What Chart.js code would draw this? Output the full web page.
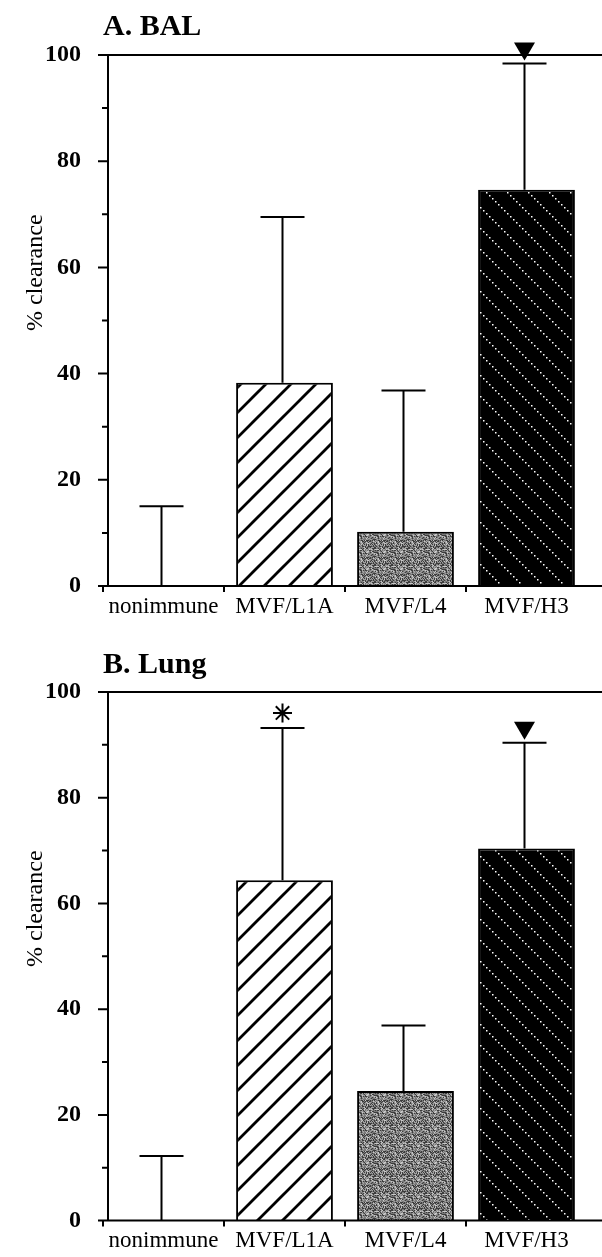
<!DOCTYPE html>
<html><head><meta charset="utf-8">
<script src="https://cdn.jsdelivr.net/npm/chart.js@4.4.0/dist/chart.umd.min.js"></script>
<style>
html,body{margin:0;padding:0;background:#fff;}
#wrap{width:602px;height:1257px;position:relative;overflow:hidden;}
canvas{position:absolute;left:0;display:block;}
</style></head><body>
<div id="wrap">
<canvas id="cA" width="602" height="628" style="top:0"></canvas>
<canvas id="cB" width="602" height="629" style="top:628px"></canvas>
</div>
<script>
// ---- data ----
const categories = ['nonimmune', 'MVF/L1A', 'MVF/L4', 'MVF/H3'];
const balMean = [0, 38.3, 10.2, 74.6];
const balSD   = [15.0, 31.2, 26.6, 23.8];
const lungMean = [0, 64.4, 24.5, 70.4];
const lungSD   = [12.2, 28.8, 12.4, 20.0];
const balMarks  = ['', '', '', 'triangle'];
const lungMarks = ['', 'asterisk', '', 'triangle'];
const panelTitles = ['A. BAL', 'B. Lung'];
const yAxisTitle = '% clearance';
const yMin = 0, yMax = 100, yStep = 20, yMinorStep = 10;

const SERIF = '"Liberation Serif", "Times New Roman", serif';

// ---- fill patterns ----
function hatchPattern(size, lw) {
  const c = document.createElement('canvas'); c.width = c.height = size;
  const g = c.getContext('2d');
  g.fillStyle = '#fff'; g.fillRect(0, 0, size, size);
  g.strokeStyle = '#000'; g.lineWidth = lw;
  g.beginPath();
  g.moveTo(-size, size * 2); g.lineTo(size * 2, -size);
  g.moveTo(-size, size); g.lineTo(size, -size);
  g.moveTo(0, size * 2); g.lineTo(size * 2, 0);
  g.stroke();
  return g.createPattern(c, 'repeat');
}
function dottedBlackPattern(size) {
  const c = document.createElement('canvas'); c.width = c.height = size;
  const g = c.getContext('2d');
  g.fillStyle = '#000'; g.fillRect(0, 0, size, size);
  g.fillStyle = '#fff';
  for (let i = 0; i < size; i += 3) g.fillRect(i, i, 1.5, 1.5);
  return g.createPattern(c, 'repeat');
}
function stipplePattern(size) {
  const c = document.createElement('canvas'); c.width = c.height = size;
  const g = c.getContext('2d');
  const img = g.createImageData(size, size);
  for (let y = 0; y < size; y++) for (let x = 0; x < size; x++) {
    const h = ((x * 374761393 + y * 668265263) ^ ((x * y) * 2246822519)) >>> 0;
    const v = (h >>> 13) % 100;
    const shade = v < 35 ? 60 : (v < 65 ? 120 : (v < 88 ? 160 : 200));
    const k = (y * size + x) * 4;
    img.data[k] = img.data[k + 1] = img.data[k + 2] = shade; img.data[k + 3] = 255;
  }
  g.putImageData(img, 0, 0);
  return g.createPattern(c, 'repeat');
}
const fills = ['#ffffff', hatchPattern(25, 2.8), stipplePattern(17), dottedBlackPattern(21)];

// ---- plugins ----
const frame = {
  id: 'frame',
  afterDatasetsDraw(chart) {
    const { ctx, chartArea: a } = chart;
    const ys = chart.scales.y, xs = chart.scales.x;
    const ax = a.left + 5;
    ctx.save();
    ctx.strokeStyle = '#000'; ctx.lineWidth = 2; ctx.lineCap = 'butt';
    ctx.beginPath();
    ctx.moveTo(ax, a.top); ctx.lineTo(ax, a.bottom);
    ctx.moveTo(ax - 10, a.top); ctx.lineTo(chart.width, a.top);
    ctx.moveTo(a.left - 1, a.bottom); ctx.lineTo(chart.width, a.bottom);
    for (let v = yMin; v <= yMax; v += yStep) {
      const p = ys.getPixelForValue(v); ctx.moveTo(ax - 10, p); ctx.lineTo(ax, p);
    }
    for (let v = yMinorStep; v < yMax; v += yStep) {
      const p = ys.getPixelForValue(v); ctx.moveTo(ax - 6, p); ctx.lineTo(ax, p);
    }
    const half = (xs.getPixelForValue(1) - xs.getPixelForValue(0)) / 2;
    for (let i = 0; i < categories.length; i++) {
      const p = xs.getPixelForValue(i) - half;
      ctx.moveTo(p, a.bottom); ctx.lineTo(p, a.bottom + 6);
    }
    ctx.stroke();
    ctx.restore();
  }
};
const errorBars = {
  id: 'errorBars',
  afterDatasetsDraw(chart) {
    const { ctx } = chart; const ds = chart.data.datasets[0];
    const meta = chart.getDatasetMeta(0); const ys = chart.scales.y;
    ctx.save(); ctx.strokeStyle = '#000'; ctx.lineWidth = 2;
    meta.data.forEach((bar, i) => {
      const base = ys.getPixelForValue(ds.data[i]);
      const top = ys.getPixelForValue(ds.data[i] + ds.sd[i]);
      const x = bar.x - 2;
      ctx.beginPath();
      ctx.moveTo(x, base); ctx.lineTo(x, top);
      ctx.moveTo(x - 22, top); ctx.lineTo(x + 22, top);
      ctx.stroke();
      const m = ds.marks[i];
      if (m === 'triangle') {
        ctx.fillStyle = '#000';
        ctx.beginPath();
        ctx.moveTo(x - 10.5, top - 21); ctx.lineTo(x + 10.5, top - 21); ctx.lineTo(x, top - 3);
        ctx.closePath(); ctx.fill();
      } else if (m === 'asterisk') {
        const cy = top - 15, r = 9.5;
        ctx.beginPath();
        for (let k = 0; k < 4; k++) {
          const ang = k * Math.PI / 4;
          ctx.moveTo(x - r * Math.cos(ang), cy - r * Math.sin(ang));
          ctx.lineTo(x + r * Math.cos(ang), cy + r * Math.sin(ang));
        }
        ctx.stroke();
      }
    });
    ctx.restore();
  }
};
const texts = {
  id: 'texts',
  afterDraw(chart, args, opts) {
    const { ctx, chartArea: a } = chart; const ys = chart.scales.y;
    ctx.save(); ctx.fillStyle = '#000';
    ctx.font = 'bold 30px ' + SERIF; ctx.textAlign = 'left'; ctx.textBaseline = 'alphabetic';
    ctx.fillText(opts.title, a.left, opts.titleBaseline);
    ctx.translate(36, ys.getPixelForValue(59));
    ctx.rotate(-Math.PI / 2);
    ctx.font = '24px ' + SERIF; ctx.textAlign = 'center'; ctx.textBaseline = 'middle';
    ctx.fillText(yAxisTitle, 0, 0);
    ctx.restore();
  }
};

function makeChart(id, means, sd, marks, title, titleBaseline, topPad, xHeight) {
  return new Chart(document.getElementById(id), {
    type: 'bar',
    data: {
      labels: categories,
      datasets: [{
        data: means, sd: sd, marks: marks,
        backgroundColor: fills, borderColor: '#000', borderWidth: 2,
        borderSkipped: 'bottom', barPercentage: 0.8, categoryPercentage: 1.0
      }]
    },
    options: {
      responsive: false, animation: false, devicePixelRatio: 1,
      layout: { padding: { top: topPad, right: 15, left: 0, bottom: 0 } },
      plugins: { legend: { display: false }, tooltip: { enabled: false }, title: { display: false },
        texts: { title: title, titleBaseline: titleBaseline } },
      scales: {
        y: {
          min: yMin, max: yMax,
          afterFit(s) { s.width = 103; },
          grid: { display: false, drawTicks: false }, border: { display: false },
          ticks: { stepSize: yStep, padding: 22, color: '#000', font: { family: SERIF, size: 24, weight: 'bold' } }
        },
        x: {
          afterFit(s) { s.height = xHeight; },
          grid: { display: false, drawTicks: false }, border: { display: false },
          ticks: { padding: 7, color: '#000', maxRotation: 0, autoSkip: false, font: { family: SERIF, size: 23 } }
        }
      }
    },
    plugins: [frame, errorBars, texts]
  });
}
makeChart('cA', balMean, balSD, balMarks, panelTitles[0], 35, 55, 42);
makeChart('cB', lungMean, lungSD, lungMarks, panelTitles[1], 45, 64, 34);
</script>
</body></html>
